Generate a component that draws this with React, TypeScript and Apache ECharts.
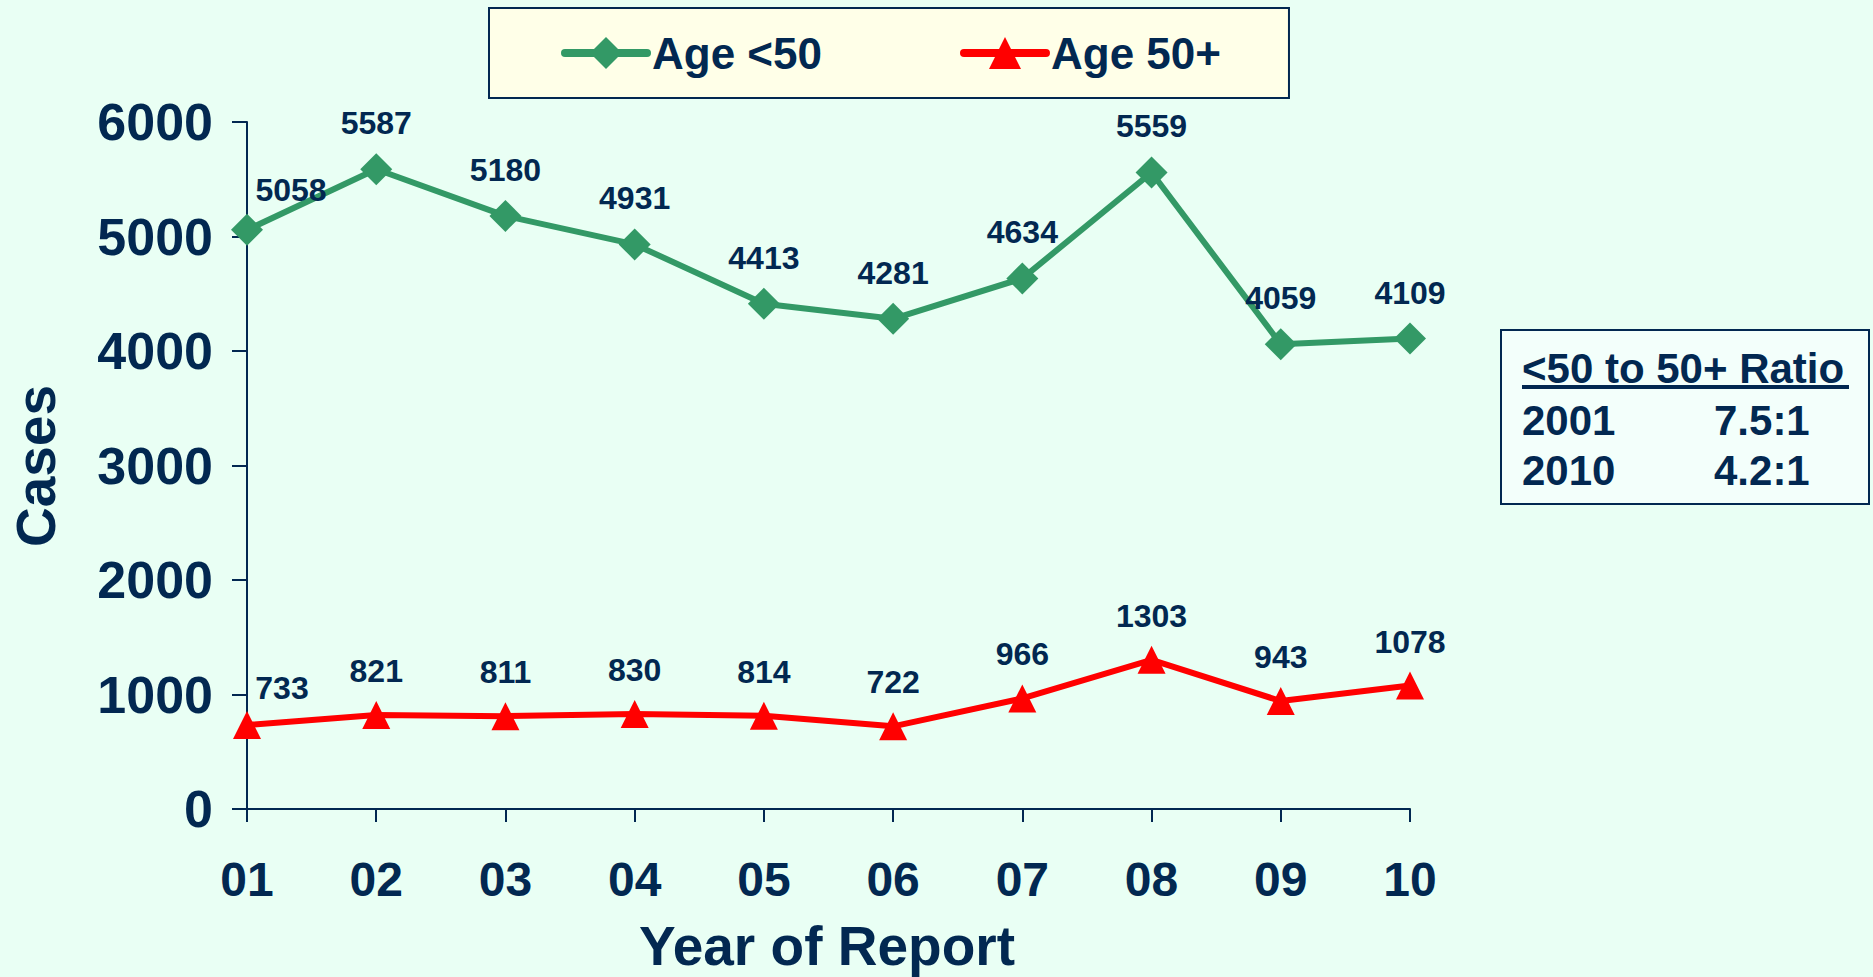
import React, { useEffect, useRef } from "react";
import * as echarts from "echarts";

const years = ["01", "02", "03", "04", "05", "06", "07", "08", "09", "10"];
const under50 = [5058, 5587, 5180, 4931, 4413, 4281, 4634, 5559, 4059, 4109];
const over50 = [733, 821, 811, 830, 814, 722, 966, 1303, 943, 1078];
const yTicks = { min: 0, max: 6000, interval: 1000 };
const ratioTitle = "<50 to 50+ Ratio";
const ratioRows = [
  ["2001", "7.5:1"],
  ["2010", "4.2:1"],
];

const NAVY = "#022851";
const GREEN = "#339966";
const RED = "#FF0000";
const FONT = "'Liberation Sans', Arial, sans-serif";

export default function App() {
  const ref = useRef<HTMLDivElement>(null);
  useEffect(() => {
    if (!ref.current) return;
    const chart = echarts.init(ref.current, undefined, { renderer: "svg" });
    const labelBase = {
      show: true,
      position: "top",
      distance: 14,
      fontSize: 32,
      fontWeight: "bold",
      fontFamily: FONT,
      color: NAVY,
    };
    const mk = (vals: number[], firstOffset: number[]) =>
      vals.map((v, i) =>
        i === 0 ? { value: v, label: { offset: firstOffset } } : { value: v }
      );
    const graphics: any[] = [
      {
        type: "text",
        x: 36,
        y: 466,
        rotation: Math.PI / 2,
        style: {
          text: "Cases",
          font: `bold 55px ${FONT}`,
          fill: NAVY,
          align: "center",
          verticalAlign: "middle",
        },
      },
      {
        type: "text",
        x: 827,
        y: 946,
        style: {
          text: "Year of Report",
          font: `bold 55px ${FONT}`,
          fill: NAVY,
          align: "center",
          verticalAlign: "middle",
        },
      },
      {
        type: "rect",
        shape: { x: 1501, y: 330, width: 368, height: 174 },
        style: { fill: "#F3FFFB", stroke: NAVY, lineWidth: 2 },
      },
      {
        type: "text",
        x: 1522,
        y: 368,
        style: {
          text: ratioTitle,
          font: `bold 42px ${FONT}`,
          fill: NAVY,
          align: "left",
          verticalAlign: "middle",
        },
      },
      {
        type: "rect",
        shape: { x: 1522, y: 385, width: 327, height: 4 },
        style: { fill: NAVY },
      },
    ];
    ratioRows.forEach((row, i) => {
      graphics.push({
        type: "text",
        x: 1522,
        y: 420 + i * 50,
        style: {
          text: row[0],
          font: `bold 42px ${FONT}`,
          fill: NAVY,
          align: "left",
          verticalAlign: "middle",
        },
      });
      graphics.push({
        type: "text",
        x: 1714,
        y: 420 + i * 50,
        style: {
          text: row[1],
          font: `bold 42px ${FONT}`,
          fill: NAVY,
          align: "left",
          verticalAlign: "middle",
        },
      });
    });

    chart.setOption({
      animation: false,
      backgroundColor: "#E9FFF4",
      textStyle: { fontFamily: FONT },
      legend: {
        left: 489,
        top: 8,
        padding: [23, 68, 23, 72],
        itemWidth: 82,
        itemHeight: 40,
        itemGap: 138,
        backgroundColor: "#FFFFE8",
        borderColor: NAVY,
        borderWidth: 2,
        borderRadius: 0,
        lineStyle: { width: 8, cap: "round" },
        textStyle: {
          fontSize: 44,
          fontWeight: "bold",
          color: NAVY,
          fontFamily: FONT,
        },
        data: ["Age <50", "Age 50+"],
      },
      grid: { left: 247, top: 122, right: 463, bottom: 168, containLabel: false },
      xAxis: {
        type: "category",
        data: years,
        boundaryGap: false,
        axisLine: { show: true, lineStyle: { color: NAVY, width: 2 } },
        axisTick: { show: true, length: 13, lineStyle: { color: NAVY, width: 2 } },
        axisLabel: {
          margin: 46,
          fontSize: 48,
          fontWeight: "bold",
          color: NAVY,
          fontFamily: FONT,
        },
        splitLine: { show: false },
      },
      yAxis: {
        type: "value",
        min: yTicks.min,
        max: yTicks.max,
        interval: yTicks.interval,
        axisLine: { show: true, lineStyle: { color: NAVY, width: 2 } },
        axisTick: { show: true, length: 15, lineStyle: { color: NAVY, width: 2 } },
        axisLabel: {
          margin: 34,
          fontSize: 52,
          fontWeight: "bold",
          color: NAVY,
          fontFamily: FONT,
          formatter: (v: number) => String(v),
        },
        splitLine: { show: false },
      },
      graphic: graphics,
      series: [
        {
          name: "Age <50",
          type: "line",
          data: mk(under50, [44, 6]),
          symbol: "diamond",
          symbolSize: 32,
          lineStyle: { color: GREEN, width: 6 },
          itemStyle: { color: GREEN },
          label: labelBase,
          z: 3,
        },
        {
          name: "Age 50+",
          type: "line",
          data: mk(over50, [35, 7]),
          symbol: "triangle",
          symbolSize: 28,
          lineStyle: { color: RED, width: 6 },
          itemStyle: { color: RED },
          label: labelBase,
          z: 3,
        },
      ],
    });
    return () => chart.dispose();
  }, []);
  return (
    <div
      ref={ref}
      style={{ position: "fixed", left: 0, top: 0, width: 1873, height: 977 }}
    />
  );
}
